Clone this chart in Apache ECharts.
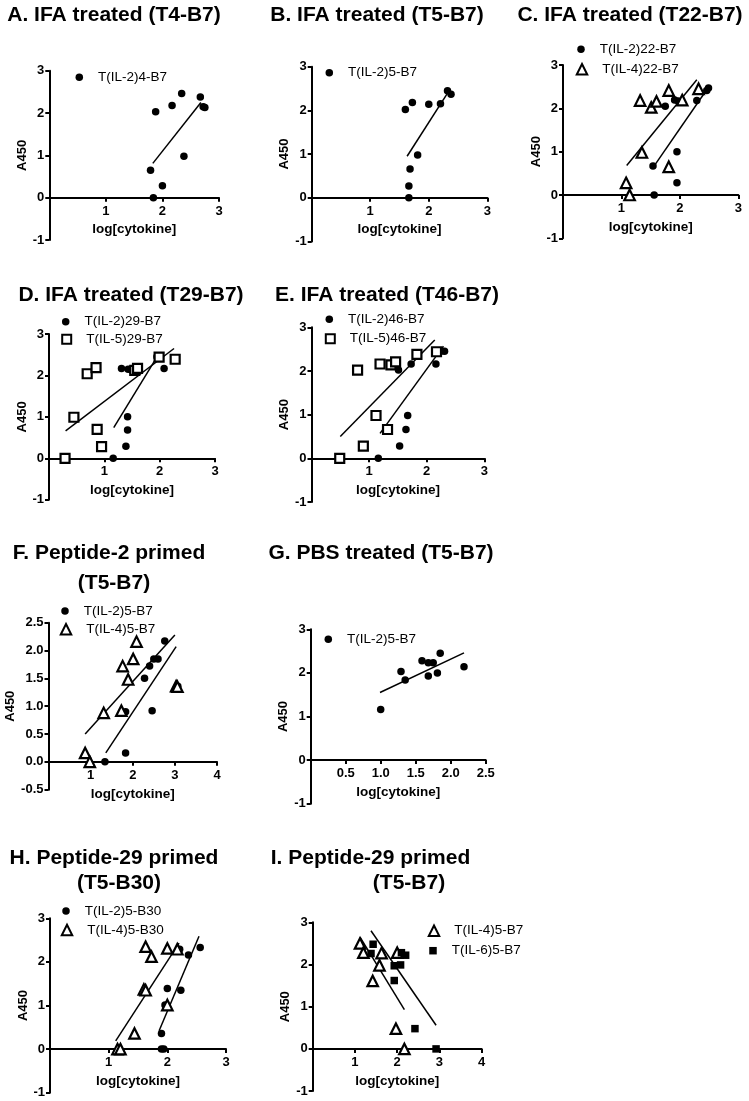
<!DOCTYPE html>
<html><head><meta charset="utf-8">
<script src="https://cdn.jsdelivr.net/npm/echarts@6/dist/echarts.min.js"></script>
<style>html,body{margin:0;padding:0;background:#fff}#c{width:749px;height:1101px}</style>
</head><body><div id="c"></div>
<script>
// ---------- tick sets ----------
const ticksY3 = [-1, 0, 1, 2, 3];
const ticksX3 = [0, 1, 2, 3];
const ticksX4 = [0, 1, 2, 3, 4];
const ticksYF = [-0.5, 0, 0.5, 1, 1.5, 2, 2.5];
const ticksXG = [0, 0.5, 1, 1.5, 2, 2.5];

// ---------- data (log[cytokine], A450) ----------
const A_IL2 = [[1.88,2.03],[2.17,2.18],[2.34,2.46],[2.67,2.38],[2.72,2.15],[2.75,2.13],[2.38,0.98],[1.79,0.65],[2.0,0.28],[1.84,0.0]];
const A_fitIL2 = [[1.83,0.81],[2.68,2.25]];

const B_IL2 = [[1.60,2.02],[1.72,2.18],[2.0,2.14],[2.20,2.15],[2.32,2.45],[2.38,2.37],[1.81,0.98],[1.68,0.66],[1.66,0.27],[1.66,0.0]];
const B_fitIL2 = [[1.63,0.95],[2.31,2.37]];

const C_IL2 = [[1.75,2.05],[1.91,2.19],[1.97,2.17],[2.29,2.18],[2.46,2.41],[2.49,2.47],[1.95,1.0],[1.54,0.67],[1.95,0.28],[1.56,0.0]];
const C_IL4 = [[1.32,2.18],[1.51,2.02],[1.60,2.16],[1.81,2.41],[2.04,2.19],[2.32,2.45],[1.35,0.98],[1.81,0.65],[1.08,0.28],[1.14,0.0]];
const C_fitIL2 = [[1.54,0.63],[2.48,2.47]];
const C_fitIL4 = [[1.09,0.68],[2.29,2.66]];

const D_IL2 = [[1.31,2.17],[1.43,2.15],[1.49,2.13],[1.52,2.10],[2.08,2.17],[1.95,2.45],[1.42,1.0],[1.42,0.68],[1.39,0.29],[1.16,0.0]];
const D_IL5 = [[0.29,0.0],[0.45,0.99],[0.69,2.04],[0.85,2.19],[0.87,0.70],[0.95,0.28],[1.55,2.12],[1.60,2.17],[1.99,2.44],[2.28,2.39]];
const D_fitIL2 = [[1.17,0.74],[1.98,2.51]];
const D_fitIL5 = [[0.30,0.66],[2.26,2.65]];

const E_IL2 = [[1.16,0.0],[1.53,0.28],[1.64,0.66],[1.67,0.98],[1.51,2.02],[1.47,2.15],[1.73,2.16],[2.16,2.16],[2.31,2.45],[2.26,2.46]];
const E_IL5 = [[0.49,0.0],[0.90,0.28],[1.12,0.98],[1.32,0.66],[0.80,2.02],[1.19,2.16],[1.38,2.14],[1.46,2.21],[1.83,2.38],[2.17,2.44]];
const E_fitIL2 = [[1.19,0.57],[2.29,2.57]];
const E_fitIL5 = [[0.50,0.50],[2.14,2.71]];

const F_IL2 = [[1.34,0.0],[1.83,0.16],[1.83,0.90],[2.28,1.50],[2.40,1.72],[2.46,0.92],[2.50,1.85],[2.60,1.85],[2.76,2.17],[3.07,1.36]];
const F_IL4 = [[0.87,0.16],[0.98,0.0],[1.31,0.88],[1.73,0.92],[1.76,1.72],[1.89,1.48],[2.01,1.85],[2.09,2.16],[3.03,1.36],[3.06,1.35]];
const F_fitIL2 = [[1.36,0.16],[3.03,2.07]];
const F_fitIL4 = [[0.87,0.50],[3.00,2.28]];

const G_IL2 = [[1.0,1.16],[1.29,2.03],[1.35,1.84],[1.59,2.28],[1.68,2.23],[1.75,2.23],[1.68,1.93],[1.81,2.0],[1.85,2.45],[2.19,2.14]];
const G_fitIL2 = [[0.99,1.55],[2.19,2.46]];

const H_IL2 = [[1.90,0.0],[1.94,0.0],[1.90,0.36],[2.0,1.39],[2.23,1.35],[2.21,2.29],[2.36,2.16],[2.56,2.33],[1.96,1.01]];
const H_IL4 = [[1.15,0.0],[1.20,0.0],[1.44,0.36],[1.60,1.37],[1.63,1.35],[1.63,2.35],[1.73,2.12],[2.0,2.31],[2.0,1.01],[2.17,2.29]];
const H_fitIL2 = [[1.86,0.42],[2.54,2.59]];
const H_fitIL4 = [[1.12,0.19],[2.20,2.43]];

const I_IL4 = [[1.12,2.50],[1.20,2.28],[1.63,2.27],[1.58,1.98],[1.42,1.61],[2.0,2.28],[1.97,0.48],[2.17,0.0]];
const I_IL6 = [[1.43,2.48],[1.38,2.26],[1.93,1.97],[2.08,1.99],[1.93,1.62],[2.10,2.28],[2.20,2.22],[2.42,0.48],[2.92,0.0]];
const I_fitIL4 = [[1.12,2.65],[2.17,0.93]];
const I_fitIL6 = [[1.38,2.80],[2.92,0.56]];

// ---------- styles ----------
const STY = {
  circle: {symbol:'circle', symbolSize:7.5, itemStyle:{color:'#000', opacity:1}},
  triOpen: {symbol:'triangle', symbolSize:10.5, itemStyle:{color:'#fff', borderColor:'#000', borderWidth:2.2, opacity:1}},
  sqOpen: {symbol:'rect', symbolSize:9, itemStyle:{color:'#fff', borderColor:'#000', borderWidth:2.2, opacity:1}},
  sqFill: {symbol:'rect', symbolSize:7.5, itemStyle:{color:'#000', opacity:1}}
};
const FONT = '"Liberation Sans", Arial, Helvetica, sans-serif';

// ---------- panels (layout) ----------
const panels = [
 {grid:{left:49.3, top:70.7, width:169.7, height:169.3}, xt:ticksX3, yt:ticksY3,
  title:[['A. IFA treated (T4-B7)',114,15]],
  series:[{name:'T(IL-2)4-B7', data:A_IL2, sty:'circle', leg:[79.3,77.3]}],
  fits:[A_fitIL2]},
 {grid:{left:311.7, top:66.7, width:175.6, height:174.7}, xt:ticksX3, yt:ticksY3,
  title:[['B. IFA treated (T5-B7)',377,15]],
  series:[{name:'T(IL-2)5-B7', data:B_IL2, sty:'circle', leg:[329.3,72.7]}],
  fits:[B_fitIL2]},
 {grid:{left:563, top:65, width:175.3, height:173.3}, xt:ticksX3, yt:ticksY3,
  title:[['C. IFA treated (T22-B7)',630,15]],
  series:[{name:'T(IL-2)22-B7', data:C_IL2, sty:'circle', leg:[581,49.3]},
          {name:'T(IL-4)22-B7', data:C_IL4, sty:'triOpen', leg:[581,69.3]}],
  fits:[C_fitIL2, C_fitIL4]},
 {grid:{left:49, top:334, width:166, height:165.7}, xt:ticksX3, yt:ticksY3,
  title:[['D. IFA treated (T29-B7)',131,295]],
  series:[{name:'T(IL-2)29-B7', data:D_IL2, sty:'circle', leg:[65.7,321.7]},
          {name:'T(IL-5)29-B7', data:D_IL5, sty:'sqOpen', leg:[65.7,339.3]}],
  fits:[D_fitIL2, D_fitIL5]},
 {grid:{left:311.5, top:327.3, width:172.8, height:174.7}, xt:ticksX3, yt:ticksY3,
  title:[['E. IFA treated (T46-B7)',387,295]],
  series:[{name:'T(IL-2)46-B7', data:E_IL2, sty:'circle', leg:[329.3,319.3]},
          {name:'T(IL-5)46-B7', data:E_IL5, sty:'sqOpen', leg:[329.3,338.7]}],
  fits:[E_fitIL2, E_fitIL5]},
 {grid:{left:48.5, top:622.7, width:168.5, height:167}, xt:ticksX4, yt:ticksYF,
  title:[['F. Peptide-2 primed',109,553],['(T5-B7)',114,583]],
  series:[{name:'T(IL-2)5-B7', data:F_IL2, sty:'circle', leg:[65,611]},
          {name:'T(IL-4)5-B7', data:F_IL4, sty:'triOpen', leg:[65,629.3]}],
  fits:[F_fitIL2, F_fitIL4]},
 {grid:{left:310.7, top:629.3, width:175, height:174.4}, xt:ticksXG, yt:ticksY3,
  title:[['G. PBS treated (T5-B7)',381,553]],
  series:[{name:'T(IL-2)5-B7', data:G_IL2, sty:'circle', leg:[328.3,639.3]}],
  fits:[G_fitIL2]},
 {grid:{left:50, top:918.3, width:176, height:174.4}, xt:ticksX3, yt:ticksY3,
  title:[['H. Peptide-29 primed',114,858],['(T5-B30)',119,883]],
  series:[{name:'T(IL-2)5-B30', data:H_IL2, sty:'circle', leg:[66,911]},
          {name:'T(IL-4)5-B30', data:H_IL4, sty:'triOpen', leg:[66,930]}],
  fits:[H_fitIL2, H_fitIL4]},
 {grid:{left:312.7, top:922.3, width:169, height:168.8}, xt:ticksX4, yt:ticksY3,
  title:[['I. Peptide-29 primed',370.5,858],['(T5-B7)',409,883]],
  series:[{name:'T(IL-4)5-B7', data:I_IL4, sty:'triOpen', leg:[433,930.7]},
          {name:'T(IL-6)5-B7', data:I_IL6, sty:'sqFill', leg:[433,950.7]}],
  fits:[I_fitIL4, I_fitIL6]}
];

const fmt = (ticks) => {
  const dec = ticks.some(t => Math.round(t) !== t) ? 1 : 0;
  return v => dec ? Number(v).toFixed(1) : String(Math.round(v));
};
const lineStyle = {color:'#000', width:2};

const grid=[], xAxis=[], yAxis=[], series=[], legend=[], graphic=[];
panels.forEach((p,i)=>{
  grid.push(Object.assign({containLabel:false}, p.grid));
  const fx = fmt(p.xt), fy = fmt(p.yt);
  const ymin = p.yt[0], ymax = p.yt[p.yt.length-1];
  // x axis drawn at y = 0 (crossing point), shifted up from grid bottom
  const xOffset = -p.grid.height * (0 - ymin) / (ymax - ymin);
  xAxis.push({type:'value', gridIndex:i, position:'bottom', offset:xOffset,
    min:p.xt[0], max:p.xt[p.xt.length-1], interval:p.xt[1]-p.xt[0],
    axisLine:{show:true, onZero:false, lineStyle},
    axisTick:{show:true, length:4, lineStyle},
    splitLine:{show:false},
    axisLabel:{color:'#000', fontWeight:'bold', fontSize:13, fontFamily:FONT, margin:7,
      formatter: v => (Math.abs(v) < 1e-9 ? '' : fx(v))},
    name:'log[cytokine]', nameLocation:'middle', nameGap:25,
    nameTextStyle:{color:'#000', fontWeight:'bold', fontSize:13.5, fontFamily:FONT}});
  yAxis.push({type:'value', gridIndex:i, position:'left', min:ymin, max:ymax, interval:p.yt[1]-p.yt[0],
    axisLine:{show:true, onZero:false, lineStyle},
    axisTick:{show:true, length:4, lineStyle},
    splitLine:{show:false},
    axisLabel:{color:'#000', fontWeight:'bold', fontSize:13, fontFamily:FONT, margin:5, formatter: v => fy(v)},
    name:'A450', nameLocation:'middle', nameGap:20, nameRotate:90,
    nameTextStyle:{color:'#000', fontWeight:'bold', fontSize:13, fontFamily:FONT}});
  p.fits.forEach((f,k)=> series.push({type:'line', name:'fit'+i+'_'+k, xAxisIndex:i, yAxisIndex:i, data:f,
    symbol:'none', showSymbol:false, lineStyle:{color:'#000', width:1.5}, silent:true, z:3, clip:false}));
  p.series.forEach(s=>{
    const st = STY[s.sty];
    series.push(Object.assign({type:'scatter', name:s.name, xAxisIndex:i, yAxisIndex:i, data:s.data, z:5, clip:false}, st));
    legend.push({data:[s.name], orient:'vertical', padding:0, selectedMode:false,
      left:s.leg[0]-st.symbolSize/2, top:s.leg[1]-7,
      itemWidth:st.symbolSize, itemHeight:st.symbolSize, itemGap:0,
      formatter: n => '{s|}' + n,
      textStyle:{color:'#000', fontSize:13.5, fontFamily:FONT, lineHeight:14,
        rich:{s:{width:10}}}});
  });
  p.title.forEach(t=> graphic.push({type:'text', x:t[1], y:t[2], silent:true,
    style:{text:t[0], fill:'#000', font:'bold 21px ' + FONT, align:'center', verticalAlign:'middle',
      textAlign:'center', textVerticalAlign:'middle'}}));
});

const chart = echarts.init(document.getElementById('c'), null, {renderer:'canvas'});
chart.setOption({
  animation:false,
  backgroundColor:'#fff',
  textStyle:{fontFamily:FONT},
  grid, xAxis, yAxis, series, legend, graphic
});
</script></body></html>
